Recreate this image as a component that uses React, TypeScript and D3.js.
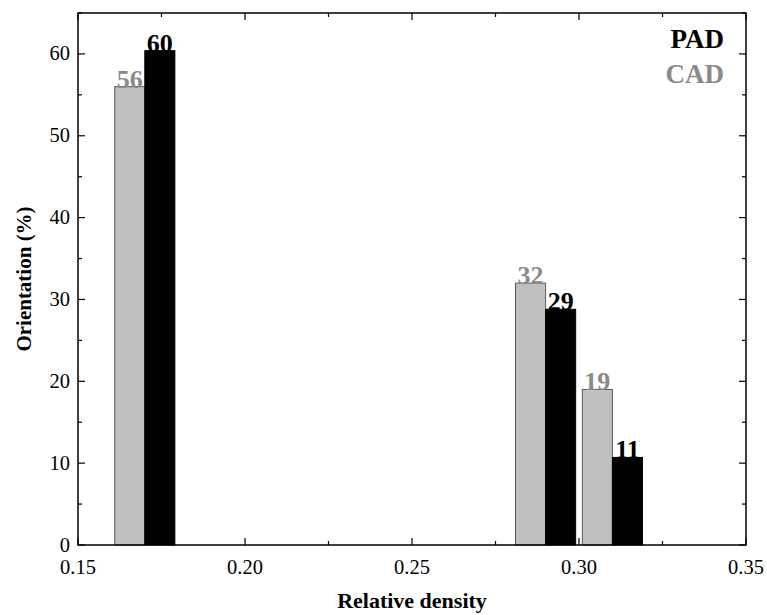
import React from "react";
import * as d3 from "d3";

const densities = [0.17, 0.29, 0.31];
const cadValues = [56, 32, 19];
const padValues = [60.4, 28.8, 10.7];
const cadLabels = ["56", "32", "19"];
const padLabels = ["60", "29", "11"];
const xTicks = [0.15, 0.2, 0.25, 0.3, 0.35];
const yTicks = [0, 10, 20, 30, 40, 50, 60];

export default function App() {
  const W = 767, H = 615;
  const L = 78, R = 746, T = 13, B = 545;
  const x = d3.scaleLinear().domain([0.15, 0.35]).range([L, R]);
  const y = d3.scaleLinear().domain([0, 65]).range([B, T]);
  const bw = 0.009;
  const font = "'Liberation Serif', 'Times New Roman', serif";
  const xMinor = d3.range(0, 9).map((i) => 0.15 + i * 0.025);
  const yMinor = d3.range(0, 14).map((i) => i * 5);
  const grayFill = "#c0c0c0";
  const grayText = "#8a8a8a";
  const ts = { fontFamily: font };
  return (
    <svg width={W} height={H} style={{ position: "absolute", left: 0, top: 0, fontFamily: font }}>
      <rect x={0} y={0} width={W} height={H} fill="#fff" />
      {densities.map((d, i) => (
        <g key={i}>
          <rect x={x(d - bw)} y={y(cadValues[i])} width={x(d) - x(d - bw)} height={y(0) - y(cadValues[i])}
            fill={grayFill} stroke="#5a5a5a" strokeWidth={1} />
          <rect x={x(d)} y={y(padValues[i])} width={x(d + bw) - x(d)} height={y(0) - y(padValues[i])}
            fill="#000" stroke="#000" strokeWidth={1} />
          <text style={ts} x={x(d - bw / 2)} y={y(cadValues[i]) + 1} textAnchor="middle" fontSize={26} fontWeight="bold" fill={grayText}>{cadLabels[i]}</text>
          <text style={ts} x={x(d + bw / 2)} y={y(padValues[i]) + 1} textAnchor="middle" fontSize={26} fontWeight="bold" fill="#000">{padLabels[i]}</text>
        </g>
      ))}
      <rect x={L} y={T} width={R - L} height={B - T} fill="none" stroke="#000" strokeWidth={1.5} />
      {xMinor.map((v, i) => {
        const major = i % 2 === 0;
        const len = major ? 7 : 4;
        return (
          <g key={"xm" + i}>
            <line x1={x(v)} x2={x(v)} y1={B} y2={B - len} stroke="#000" strokeWidth={1.2} />
            <line x1={x(v)} x2={x(v)} y1={T} y2={T + len} stroke="#000" strokeWidth={1.2} />
          </g>
        );
      })}
      {yMinor.map((v, i) => {
        const major = i % 2 === 0;
        const len = major ? 7 : 4;
        return (
          <g key={"ym" + i}>
            <line x1={L} x2={L + len} y1={y(v)} y2={y(v)} stroke="#000" strokeWidth={1.2} />
            <line x1={R} x2={R - len} y1={y(v)} y2={y(v)} stroke="#000" strokeWidth={1.2} />
          </g>
        );
      })}
      {xTicks.map((v) => (
        <text style={ts} key={"xt" + v} x={x(v)} y={B + 29} textAnchor="middle" fontSize={20.5}>{v.toFixed(2)}</text>
      ))}
      {yTicks.map((v) => (
        <text style={ts} key={"yt" + v} x={L - 8} y={y(v) + 6.5} textAnchor="end" fontSize={20.5}>{v}</text>
      ))}
      <text style={ts} x={(L + R) / 2} y={608} textAnchor="middle" fontSize={22} fontWeight="bold">Relative density</text>
      <text style={ts} transform={`translate(31, ${(T + B) / 2}) rotate(-90)`} textAnchor="middle" fontSize={21} fontWeight="bold">Orientation (%)</text>
      <text style={ts} x={724} y={48} textAnchor="end" fontSize={27} fontWeight="bold" fill="#000">PAD</text>
      <text style={ts} x={724} y={83} textAnchor="end" fontSize={27} fontWeight="bold" fill={grayText}>CAD</text>
    </svg>
  );
}
